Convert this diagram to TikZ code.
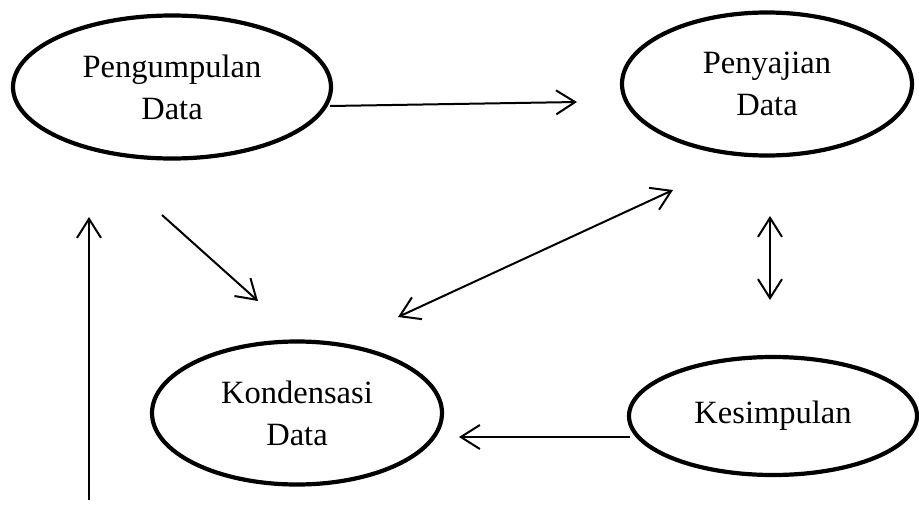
\documentclass[tikz,border=0pt]{standalone}
\usepackage{fontspec}
\setmainfont{Liberation Serif}
\usetikzlibrary{shapes.geometric,arrows.meta}
\begin{document}
\begin{tikzpicture}[x=1pt,y=-1pt,
  proc/.style={ellipse,draw,line width=4.2pt,inner sep=0pt,align=center,
    font=\fontsize{32.5}{42}\selectfont},
  conn/.style={line width=2pt},
  >={Straight Barb[length=19pt,width=24pt,line width=2pt]}]
\useasboundingbox (0,0) rectangle (919,504);
% nodes
\node[proc,minimum width=318pt,minimum height=143pt] (kumpul) at (172,87) {Pengumpulan\\Data};
\node[proc,minimum width=290pt,minimum height=143pt] (saji) at (767,84) {Penyajian\\Data};
\node[proc,minimum width=290pt,minimum height=143pt] (kondens) at (297,413) {Kondensasi\\Data};
\node[proc,minimum width=288pt,minimum height=118pt] (simpul) at (773,416) {Kesimpulan};
% free ends
\coordinate (a1) at (330,106);
\coordinate (a2) at (577,102);
\coordinate (b1) at (162,215);
\coordinate (b2) at (258,301);
\coordinate (c1) at (398,317);
\coordinate (c2) at (673,190);
\coordinate (d1) at (770,216);
\coordinate (d2) at (770,300);
\coordinate (e1) at (630,437);
\coordinate (e2) at (459,437);
\coordinate (f1) at (89,500);
\coordinate (f2) at (89,217);
% connectors
\draw[conn,->] (a1) -- (a2);
\draw[conn,->] (b1) -- (b2);
\draw[conn,<->] (c1) -- (c2);
\draw[conn,<->] (d1) -- (d2);
\draw[conn,->] (e1) -- (e2);
\draw[conn,->] (f1) -- (f2);
\end{tikzpicture}
\end{document}
